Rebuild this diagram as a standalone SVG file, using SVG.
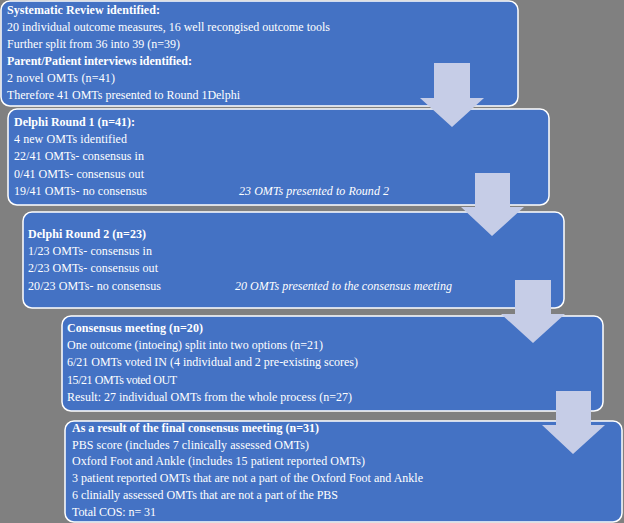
<svg xmlns="http://www.w3.org/2000/svg" width="624" height="523" viewBox="0 0 624 523">
<style>
.box{fill:#4472C4;stroke:#FFFFFF;stroke-width:1.5}
text{font-family:"Liberation Serif","Times New Roman",serif;font-size:12px;fill:#FFFFFF}
.b{font-weight:bold}
.i{font-style:italic}
.arr{fill:#C6CDE7}
</style>
<rect x="0" y="0" width="624" height="523" fill="#808080"/>
<g id="node-systematic-review">
<rect class="box" x="1" y="1" width="517" height="105" rx="9"/>
<text class="b" x="7" y="14" textLength="153">Systematic Review identified:</text>
<text x="7" y="31" textLength="323">20 individual  outcome measures, 16 well recongised  outcome tools</text>
<text x="7" y="48" textLength="173">Further split from 36 into 39 (n=39)</text>
<text class="b" x="7" y="65" textLength="185">Parent/Patient interviews identified:</text>
<text x="7" y="82" textLength="108">2 novel OMTs (n=41)</text>
<text x="7" y="99" textLength="233">Therefore 41 OMTs presented to Round 1Delphi</text>
</g>
<g id="node-delphi-round-1">
<rect class="box" x="8" y="109" width="541" height="96" rx="9"/>
<text class="b" x="14" y="126" textLength="121">Delphi Round 1 (n=41):</text>
<text x="14" y="143" textLength="113">4 new OMTs identified</text>
<text x="14" y="160" textLength="130">22/41 OMTs- consensus in</text>
<text x="14" y="178" textLength="130">0/41 OMTs- consensus out</text>
<text x="14" y="195" textLength="133">19/41 OMTs- no consensus</text>
<text class="i" x="239" y="195" textLength="150">23 OMTs presented to Round 2</text>
</g>
<g id="node-delphi-round-2">
<rect class="box" x="23" y="212" width="541" height="96" rx="9"/>
<text class="b" x="28" y="238" textLength="118">Delphi Round 2 (n=23)</text>
<text x="28" y="255" textLength="124">1/23 OMTs- consensus in</text>
<text x="28" y="272" textLength="130">2/23 OMTs- consensus out</text>
<text x="28" y="290" textLength="133">20/23 OMTs- no consensus</text>
<text class="i" x="235" y="290" textLength="217">20 OMTs presented to the consensus meeting</text>
</g>
<g id="node-consensus-meeting">
<rect class="box" x="62" y="316" width="541" height="95" rx="9"/>
<text class="b" x="67" y="332" textLength="136">Consensus meeting (n=20)</text>
<text x="67" y="349" textLength="256">One outcome (intoeing)  split into two options (n=21)</text>
<text x="67" y="366" textLength="291">6/21 OMTs voted IN (4 individual  and 2 pre-existing  scores)</text>
<text x="67" y="384" textLength="110">15/21 OMTs voted OUT</text>
<text x="67" y="401" textLength="285">Result: 27 individual  OMTs from the whole process (n=27)</text>
</g>
<g id="node-final-result">
<rect class="box" x="65" y="421" width="557" height="101" rx="9"/>
<text class="b" x="72" y="432" textLength="247">As a result of the final consensus meeting (n=31)</text>
<text x="72" y="449" textLength="237">PBS score (includes 7 clinically assessed OMTs)</text>
<text x="72" y="465" textLength="293">Oxford Foot and Ankle (includes 15 patient reported OMTs)</text>
<text x="72" y="482" textLength="351">3 patient reported OMTs that are not a part of the Oxford Foot and  Ankle</text>
<text x="72" y="499" textLength="266">6 clinially assessed OMTs that are not a part of the PBS</text>
<text x="72" y="516" textLength="84">Total COS: n= 31</text>
</g>
<g id="connectors">
<polygon class="arr" points="434,63 470,63 470,98 484,98 452,127 420,98 434,98"/>
<polygon class="arr" points="475,173 510,173 510,207 524,207 492,236 461,207 475,207"/>
<polygon class="arr" points="515,280 551,280 551,314 565,314 533,343 501,314 515,314"/>
<polygon class="arr" points="556,391 591,391 591,425 605,425 573,454 542,425 556,425"/>
</g>
</svg>
